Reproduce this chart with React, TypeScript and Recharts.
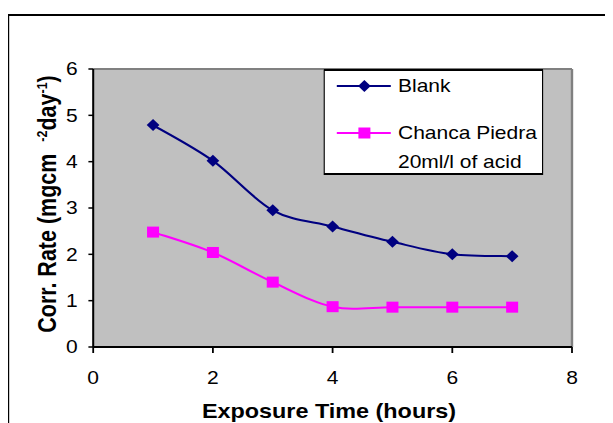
import React from "react";
import {
  LineChart,
  Line,
  XAxis,
  YAxis,
  CartesianGrid,
  ReferenceLine,
  Legend,
  Label,
} from "recharts";

const hours = [1, 2, 3, 4, 5, 6, 7];
const blank = [4.79, 4.02, 2.95, 2.6, 2.27, 2.0, 1.96];
const chancaPiedra = [2.48, 2.04, 1.4, 0.87, 0.86, 0.86, 0.86];
const xTicks = [0, 2, 4, 6, 8];
const yTicks = [0, 1, 2, 3, 4, 5, 6];

const NAVY = "#000080";
const MAGENTA = "#FF00FF";
const FONT = "'Liberation Sans', Arial, sans-serif";

// the original picture is stretched sideways, so the chart is drawn narrow and scaled
const STRETCH = 1.2;

const data = hours.map((h, i) => ({
  hours: h,
  blank: blank[i],
  chanca: chancaPiedra[i],
}));

// Excel-like smoothed line (Catmull-Rom through every point)
function excelSmooth(context: any) {
  let pts: number[][] = [];
  return {
    areaStart() {},
    areaEnd() {},
    lineStart() {
      pts = [];
    },
    lineEnd() {
      if (!pts.length) return;
      context.moveTo(pts[0][0], pts[0][1]);
      for (let i = 0; i < pts.length - 1; i++) {
        const p0 = pts[i - 1] || pts[i];
        const p1 = pts[i];
        const p2 = pts[i + 1];
        const p3 = pts[i + 2] || p2;
        context.bezierCurveTo(
          p1[0] + (p2[0] - p0[0]) / 6,
          p1[1] + (p2[1] - p0[1]) / 6,
          p2[0] - (p3[0] - p1[0]) / 6,
          p2[1] - (p3[1] - p1[1]) / 6,
          p2[0],
          p2[1]
        );
      }
    },
    point(x: number, y: number) {
      pts.push([+x, +y]);
    },
  };
}

const Diamond = ({ cx, cy, index }: any) => (
  <path
    key={`d-${index}`}
    d={`M${cx},${cy - 6} L${cx + 5.3},${cy} L${cx},${cy + 6} L${cx - 5.3},${cy} Z`}
    fill={NAVY}
  />
);

const Square = ({ cx, cy, index }: any) => (
  <rect key={`s-${index}`} x={cx - 5} y={cy - 5.5} width={10} height={11} fill={MAGENTA} />
);

const LegendBox = () => (
  <div
    style={{
      width: 183,
      height: 106,
      boxSizing: "border-box",
      background: "#fff",
      border: "2px solid #000",
      borderLeftWidth: 1.7,
      borderRightWidth: 1.7,
    }}
  >
    <svg width={180} height={102} style={{ display: "block" }}>
      <line x1={10} x2={55} y1={15} y2={15} stroke={NAVY} strokeWidth={2} />
      <path d="M33,9 L38.3,15 L33,21 L27.7,15 Z" fill={NAVY} />
      <text x={61} y={15} dy="0.355em" fontSize={17.5} fill="#000">
        Blank
      </text>
      <line x1={10} x2={55} y1={62} y2={62} stroke={MAGENTA} strokeWidth={2} />
      <rect x={28} y={56.5} width={10} height={11} fill={MAGENTA} />
      <text x={61} y={62} dy="0.355em" fontSize={17.5} fill="#000">
        Chanca Piedra
      </text>
      <text x={61} y={91} dy="0.355em" fontSize={17.5} fill="#000">
        20ml/l of acid
      </text>
    </svg>
  </div>
);

const YTitle = ({ viewBox }: any) => {
  const cx = 32.5;
  const cy = viewBox.y + viewBox.height / 2 - 4;
  return (
    <text
      x={cx}
      y={cy}
      dy="0.355em"
      transform={`rotate(-90, ${cx}, ${cy})`}
      textAnchor="middle"
      fontSize={21.5}
      fontWeight="bold"
      fill="#000"
    >
      Corr. Rate (mgcm
      <tspan dx={12} dy={-8} fontSize={12.5}>-2</tspan>
      <tspan dy={8}>day</tspan>
      <tspan dy={-8} fontSize={12.5}>-1</tspan>
      <tspan dy={8}>)</tspan>
    </text>
  );
};

export default function App() {
  return (
    <div
      style={{
        position: "relative",
        width: 504,
        height: 415,
        transform: `scaleX(${STRETCH})`,
        transformOrigin: "0 0",
        fontFamily: FONT,
        background: "#fff",
      }}
    >
      {/* outer chart border (cut off at right and bottom) */}
      <div
        style={{
          position: "absolute",
          left: 0,
          top: 6,
          width: 504,
          height: 409,
          boxSizing: "border-box",
          borderLeft: "1.7px solid #000",
          borderTop: "2px solid #000",
        }}
      />
      <LineChart
        width={504}
        height={415}
        data={data}
        margin={{ top: 61, right: 34, left: 0, bottom: 0 }}
      >
        <CartesianGrid fill="#C0C0C0" horizontal={false} vertical={false} />
        <ReferenceLine y={6} stroke="#808080" strokeWidth={2} />
        <ReferenceLine x={8} stroke="#808080" strokeWidth={2} />
        <XAxis
          type="number"
          dataKey="hours"
          domain={[0, 8]}
          ticks={xTicks}
          height={76}
          tickSize={6}
          tickMargin={19}
          axisLine={{ stroke: "#000", strokeWidth: 2 }}
          tickLine={{ stroke: "#000", strokeWidth: 1.5 }}
          tick={{ fontSize: 17.5, fill: "#000" }}
        >
          <Label
            value="Exposure Time (hours)"
            position="insideBottom"
            offset={5}
            dx={-3}
            fontSize={19.5}
            fontWeight="bold"
            fill="#000"
          />
        </XAxis>
        <YAxis
          type="number"
          domain={[0, 6]}
          ticks={yTicks}
          width={71}
          tickSize={4}
          tickMargin={9}
          axisLine={{ stroke: "#000", strokeWidth: 1.7 }}
          tickLine={{ stroke: "#000", strokeWidth: 1.5 }}
          tick={{ fontSize: 17.5, fill: "#000" }}
        >
          <Label content={YTitle} />
        </YAxis>
        <Legend
          layout="vertical"
          align="center"
          verticalAlign="middle"
          wrapperStyle={{ left: 262.5, top: 61, width: 183, height: 106 }}
          content={LegendBox}
        />
        <Line
          dataKey="blank"
          name="Blank"
          type={excelSmooth as any}
          stroke={NAVY}
          strokeWidth={2}
          dot={Diamond}
          activeDot={false}
          isAnimationActive={false}
        />
        <Line
          dataKey="chanca"
          name="Chanca Piedra 20ml/l of acid"
          type={excelSmooth as any}
          stroke={MAGENTA}
          strokeWidth={2}
          dot={Square}
          activeDot={false}
          isAnimationActive={false}
        />
      </LineChart>
    </div>
  );
}
